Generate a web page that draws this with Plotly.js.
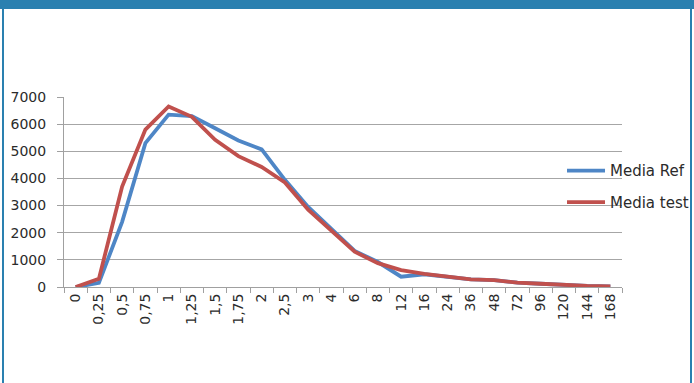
<!DOCTYPE html>
<html>
<head>
<meta charset="utf-8">
<script src="https://cdn.plot.ly/plotly-3.0.1.min.js"></script>
<style>
  html, body { margin: 0; padding: 0; background: #fff; }
  #wrap { position: relative; width: 694px; height: 383px; overflow: hidden; }
  #chart { position: absolute; left: 0; top: 0; width: 694px; height: 383px; }
  .frame { position: absolute; background: #2a80b0; pointer-events: none; }
</style>
</head>
<body>
<div id="wrap">
  <div id="chart"></div>
  <div class="frame" style="left:0;top:0;width:694px;height:9px;"></div>
  <div class="frame" style="left:2px;top:0;width:2px;height:383px;"></div>
  <div class="frame" style="left:690px;top:0;width:2px;height:383px;"></div>
</div>
<script>
const categories = ['0','0,25','0,5','0,75','1','1,25','1,5','1,75','2','2,5','3','4','6','8','12','16','24','36','48','72','96','120','144','168'];
const mediaRef  = [0, 150, 2400, 5300, 6350, 6300, 5850, 5400, 5070, 3950, 2950, 2120, 1330, 920, 380, 470, 380, 280, 250, 160, 120, 70, 40, 20];
const mediaTest = [0, 300, 3700, 5800, 6650, 6270, 5420, 4820, 4420, 3850, 2850, 2080, 1300, 880, 620, 480, 390, 280, 250, 160, 120, 70, 40, 20];
const seriesNames = ['Media Ref', 'Media test'];
const yTicks = [0, 1000, 2000, 3000, 4000, 5000, 6000, 7000];

const font = 'DejaVu Sans, sans-serif';
const traces = [
  { x: categories, y: mediaRef, name: seriesNames[0], type: 'scatter', mode: 'lines',
    line: { color: '#4e86c6', width: 3.8 }, legendgroup: 'a' },
  { x: categories, y: mediaTest, name: seriesNames[1], type: 'scatter', mode: 'lines',
    line: { color: '#c0504d', width: 3.8 }, legendgroup: 'b' }
];

const layout = {
  width: 694, height: 383,
  margin: { l: 64, r: 72, t: 97, b: 96, autoexpand: false },
  paper_bgcolor: '#ffffff', plot_bgcolor: '#ffffff',
  font: { family: font, size: 14, color: '#2b2b2b' },
  showlegend: true,
  legend: {
    x: 0.8925, xanchor: 'left', y: 0.53, yanchor: 'middle',
    font: { family: font, size: 15, color: '#2b2b2b' },
    bgcolor: 'rgba(0,0,0,0)', borderwidth: 0,
    traceorder: 'grouped', tracegroupgap: 9, itemwidth: 38
  },
  xaxis: {
    type: 'category', tickangle: -90,
    tickson: 'boundaries', ticks: 'outside', ticklen: 5, tickcolor: '#a0a0a0',
    showline: true, linecolor: '#a0a0a0', linewidth: 1,
    showgrid: false, zeroline: false,
    tickfont: { family: font, size: 14, color: '#2b2b2b' },
    range: [-0.5, categories.length - 0.5]
  },
  yaxis: {
    range: [0, 7000], tickvals: yTicks, ticktext: yTicks.map(String),
    ticks: 'outside', ticklen: 6, tickcolor: '#a0a0a0',
    showline: true, linecolor: '#a0a0a0', linewidth: 1,
    showgrid: true, gridcolor: '#a6a6a6', gridwidth: 1,
    zeroline: false, ticklabelstandoff: 8,
    tickfont: { family: font, size: 14, color: '#2b2b2b' }
  }
};

Plotly.newPlot('chart', traces, layout, { displayModeBar: false, staticPlot: true });
</script>
</body>
</html>
